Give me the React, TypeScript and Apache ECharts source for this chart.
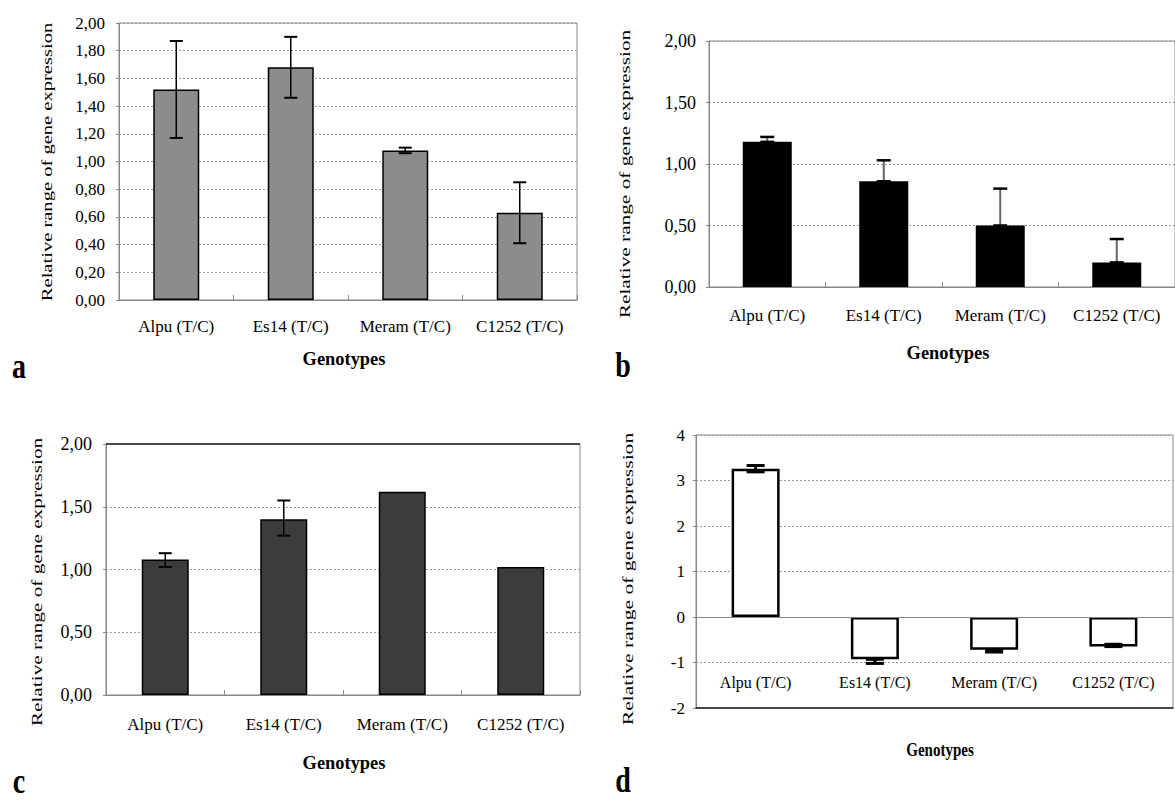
import React, { useEffect, useRef } from "react";
import * as echarts from "echarts";

const categories = ["Alpu (T/C)", "Es14 (T/C)", "Meram (T/C)", "C1252 (T/C)"];

// Panel a
const aValues = [1.52, 1.68, 1.08, 0.63];
const aErrPlus = [0.35, 0.22, 0.02, 0.22];
const aErrMinus = [0.35, 0.22, 0.02, 0.22];
// Panel b
const bValues = [1.18, 0.86, 0.5, 0.2];
const bErrPlus = [0.04, 0.17, 0.3, 0.19];
const bErrMinus = [0, 0, 0, 0];
// Panel c
const cValues = [1.08, 1.4, 1.62, 1.02];
const cErrPlus = [0.05, 0.15, 0, 0];
const cErrMinus = [0.06, 0.13, 0, 0];
// Panel d
const dValues = [3.26, -0.93, -0.72, -0.65];
const dErrPlus = [0.07, 0, 0, 0.05];
const dErrMinus = [0.07, 0.09, 0.05, 0];

const abcTicks = (v: number) => v.toFixed(2).replace(".", ",");
const dTicks = (v: number) => String(v);

const FONT = "Liberation Serif";
const yTitle = "Relative range of gene expression";

function errData(vals: number[], plus: number[], minus: number[]) {
  return vals
    .map((v, i) => ({ i, v, lo: v - minus[i], hi: v + plus[i], p: plus[i], m: minus[i] }))
    .filter((d) => d.p > 0 || d.m > 0)
    .map((d) => [d.i, d.lo, d.hi]);
}

function errSeries(idx: number, data: number[][], capW: number, stemColor: string, stemW: number, capW2: number) {
  return {
    type: "custom",
    xAxisIndex: idx,
    yAxisIndex: idx,
    z: 5,
    data,
    encode: { x: 0, y: [1, 2] },
    renderItem: (params: any, api: any) => {
      const x = api.value(0);
      const lo = api.coord([x, api.value(1)]);
      const hi = api.coord([x, api.value(2)]);
      const h = capW / 2;
      return {
        type: "group",
        children: [
          { type: "line", shape: { x1: lo[0], y1: lo[1], x2: hi[0], y2: hi[1] }, style: { stroke: stemColor, lineWidth: stemW } },
          { type: "line", shape: { x1: lo[0] - h, y1: lo[1], x2: lo[0] + h, y2: lo[1] }, style: { stroke: "#000", lineWidth: capW2 } },
          { type: "line", shape: { x1: hi[0] - h, y1: hi[1], x2: hi[0] + h, y2: hi[1] }, style: { stroke: "#000", lineWidth: capW2 } },
        ],
      };
    },
  };
}

function txt(x: number, y: number, text: string, size: number, opts: any = {}) {
  return {
    type: "text",
    x,
    y,
    rotation: opts.rotation || 0,
    scaleX: opts.scaleX || 1,
    scaleY: opts.scaleY || 1,
    style: {
      text,
      fontSize: size,
      fontFamily: FONT,
      fontWeight: opts.bold ? "bold" : "normal",
      fill: "#000",
      align: "center",
      verticalAlign: "middle",
      textAlign: "center",
      textVerticalAlign: "middle",
    },
  };
}

export default function App() {
  const ref = useRef<HTMLDivElement>(null);
  useEffect(() => {
    if (!ref.current) return;
    const chart = echarts.init(ref.current, undefined, { renderer: "svg" });

    const grids = [
      { left: 119, top: 23, width: 458, height: 277, show: true, borderColor: "#888", borderWidth: 1 },
      { left: 709, top: 41, width: 472, height: 246, show: true, borderColor: "#888", borderWidth: 1 },
      { left: 106, top: 444, width: 474, height: 251, show: true, borderColor: "#888", borderWidth: 1 },
      { left: 696, top: 435, width: 477, height: 273, show: true, borderColor: "#888", borderWidth: 1 },
    ];

    const labelMargins = [18, 20, 21];
    const xAxes: any[] = [0, 1, 2].map((i) => ({
      type: "category",
      gridIndex: i,
      data: categories,
      axisLine: { onZero: false, lineStyle: { color: "#888", width: 1 } },
      axisTick: { show: true, inside: true, length: 5, lineStyle: { color: "#888" } },
      axisLabel: { color: "#000", fontFamily: FONT, fontSize: 17, margin: labelMargins[i], interval: 0 },
      splitLine: { show: false },
    }));
    // panel d: bottom frame line is the axis; labels sit inside the plot, between -1 and -2
    xAxes.push({
      type: "category",
      gridIndex: 3,
      data: categories,
      axisLine: { onZero: false, lineStyle: { color: "#222", width: 1.5 } },
      axisTick: { show: false },
      axisLabel: { color: "#000", fontFamily: FONT, fontSize: 16, margin: 18, inside: true, interval: 0 },
      splitLine: { show: false },
    });

    const yCfg = [
      { min: 0, max: 2, interval: 0.2, fmt: abcTicks, size: 17, margin: 14 },
      { min: 0, max: 2, interval: 0.5, fmt: abcTicks, size: 18, margin: 13 },
      { min: 0, max: 2, interval: 0.5, fmt: abcTicks, size: 18, margin: 14 },
      { min: -2, max: 4, interval: 1, fmt: dTicks, size: 17, margin: 11 },
    ];
    const yAxes = yCfg.map((c, i) => ({
      type: "value",
      gridIndex: i,
      min: c.min,
      max: c.max,
      interval: c.interval,
      axisLine: { show: true, lineStyle: { color: "#888" } },
      axisTick: { show: true, length: 3, lineStyle: { color: "#888" } },
      axisLabel: { color: "#000", fontFamily: FONT, fontSize: c.size, margin: c.margin, formatter: c.fmt },
      splitLine: { show: true, lineStyle: { color: "#999", type: [2, 2], width: 1 } },
    }));

    const barStyle = [
      { color: "#8c8c8c", borderColor: "#000", borderWidth: 1.5 },
      { color: "#000", borderColor: "#000", borderWidth: 0 },
      { color: "#3c3c3c", borderColor: "#000", borderWidth: 1.5 },
      { color: "#fff", borderColor: "#000", borderWidth: 2.5 },
    ];
    const barWidths = [46, 49, 47, 48];
    const vals = [aValues, bValues, cValues, dValues];

    const refLine = (y: number, color: string, width: number) => ({
      silent: true,
      symbol: "none",
      label: { show: false },
      lineStyle: { color, width, type: "solid" },
      data: [{ yAxis: y }],
    });

    const series: any[] = vals.map((v, i) => ({
      type: "bar",
      xAxisIndex: i,
      yAxisIndex: i,
      data: v,
      barWidth: barWidths[i],
      itemStyle: barStyle[i],
      z: 2,
      ...(i === 2 ? { markLine: refLine(2, "#222", 1.5) } : {}),
      ...(i === 3 ? { markLine: refLine(0, "#888", 1.2) } : {}),
    }));
    series.push(errSeries(0, errData(aValues, aErrPlus, aErrMinus), 13, "#000", 1.5, 2));
    series.push(errSeries(1, errData(bValues, bErrPlus, bErrMinus), 14, "#666", 2, 2.5));
    series.push(errSeries(2, errData(cValues, cErrPlus, cErrMinus), 13, "#000", 1.5, 2));
    series.push(errSeries(3, errData(dValues, dErrPlus, dErrMinus), 18, "#000", 3, 3));

    const graphic = [
      txt(47, 162, yTitle, 15, { rotation: Math.PI / 2, scaleX: 1.37 }),
      txt(625, 174, yTitle, 15, { rotation: Math.PI / 2, scaleX: 1.42 }),
      txt(37, 582, yTitle, 15, { rotation: Math.PI / 2, scaleX: 1.42 }),
      txt(628, 579, yTitle, 15, { rotation: Math.PI / 2, scaleX: 1.44 }),
      txt(344, 358, "Genotypes", 16, { bold: true, scaleX: 1.15, scaleY: 1.2 }),
      txt(948, 352, "Genotypes", 16, { bold: true, scaleX: 1.15, scaleY: 1.2 }),
      txt(344, 762, "Genotypes", 16, { bold: true, scaleX: 1.15, scaleY: 1.2 }),
      txt(940, 750, "Genotypes", 15, { bold: true, scaleX: 1.0, scaleY: 1.3 }),
      txt(19, 366, "a", 28, { bold: true, scaleY: 1.3 }),
      txt(623, 365, "b", 28, { bold: true, scaleY: 1.3 }),
      txt(19, 781, "c", 28, { bold: true, scaleY: 1.3 }),
      txt(623, 780, "d", 28, { bold: true, scaleY: 1.3 }),
    ];

    chart.setOption({
      animation: false,
      backgroundColor: "#fff",
      grid: grids,
      xAxis: xAxes,
      yAxis: yAxes,
      series,
      graphic,
    });
    return () => chart.dispose();
  }, []);
  return <div ref={ref} style={{ position: "absolute", left: 0, top: 0, width: 1175, height: 802 }} />;
}
